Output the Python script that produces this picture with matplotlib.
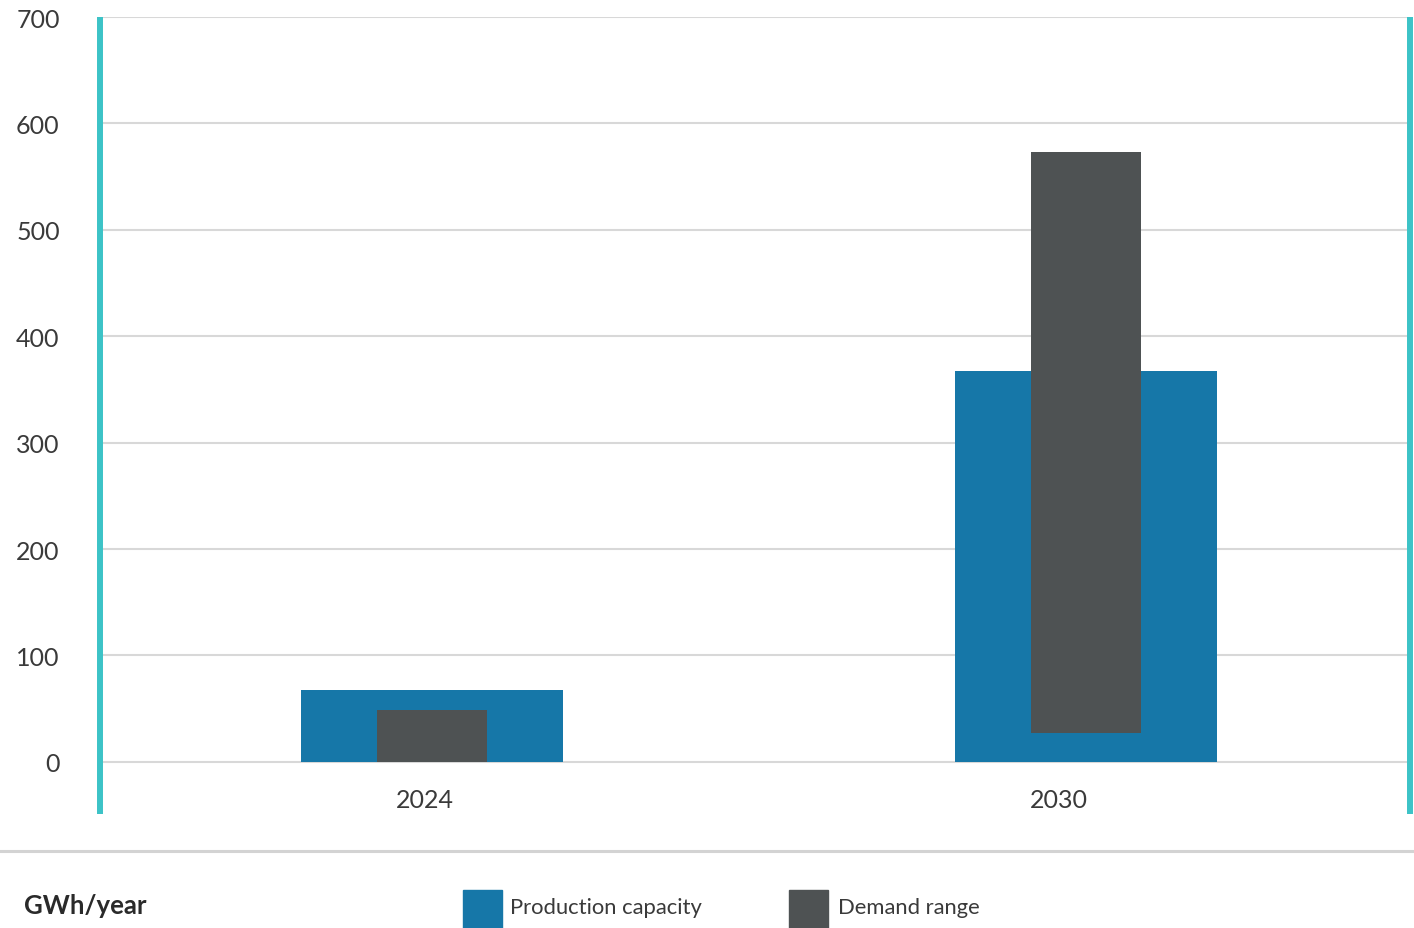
import matplotlib
matplotlib.use("Agg")
import matplotlib.pyplot as plt
from matplotlib.patches import Rectangle
from matplotlib.lines import Line2D

plt.rcParams['font.family'] = ['Lato', 'DejaVu Sans']

# Data
years = ["2024", "2030"]
production_capacity = [68, 367]
demand_low = [0, 27]
demand_high = [49, 573]
yticks = [0, 100, 200, 300, 400, 500, 600, 700]
unit_label = "GWh/year"
legend_labels = ["Production capacity", "Demand range"]

BLUE = "#1677A8"
GREY = "#4E5253"
TEAL = "#3CC3C7"
TXT = "#3A3A3A"

W, H = 1414, 929
fig = plt.figure(figsize=(W / 100, H / 100), dpi=100)
ax = fig.add_axes([100 / W, 1 - 815 / H, 1310 / W, (815 - 18) / H])

x = list(range(len(years)))
ax.bar(x, production_capacity, width=0.40, color=BLUE, zorder=2)
ax.bar(x, [h - l for h, l in zip(demand_high, demand_low)], bottom=demand_low,
       width=0.167, color=GREY, zorder=3)

ax.set_xlim(-0.5076, 1.4954)
ax.set_ylim(-49, 700)

ax.set_yticks(yticks)
ax.set_yticklabels([str(v) for v in yticks], fontsize=18, color=TXT)
ax.tick_params(axis='y', length=0, pad=29)
ax.set_xticks([])
ax.grid(axis='y', color="#D8D8D8", linewidth=1.5, zorder=0)

label_offsets = [-0.011, -0.041]
for xi, yr, off in zip(x, years, label_offsets):
    ax.text(xi + off, -35, yr, ha='center', va='center', fontsize=18, color=TXT)

for s in ['top', 'bottom']:
    ax.spines[s].set_visible(False)
for s in ['left', 'right']:
    ax.spines[s].set_color(TEAL)
    ax.spines[s].set_linewidth(4.3)
    ax.spines[s].set_capstyle('butt')

# separator line
fig.add_artist(Line2D([0, 1], [1 - 852 / H, 1 - 852 / H], color="#D3D3D3", linewidth=2.2,
                      transform=fig.transFigure))

fig.text(24 / W, 1 - 906 / H, unit_label, fontsize=18.5, fontweight='bold', color="#2A2A2A",
         ha='left', va='center')

for (x0, x1, tx), lab, col in zip([(463, 502, 510), (789, 828, 838)], legend_labels, [BLUE, GREY]):
    fig.add_artist(Rectangle((x0 / W, 0), (x1 - x0) / W, (929 - 891) / H,
                             transform=fig.transFigure, color=col))
    fig.text(tx / W, 1 - 908 / H, lab, fontsize=15.8, color=TXT, ha='left', va='center')

fig.savefig("out.png", dpi=100)
